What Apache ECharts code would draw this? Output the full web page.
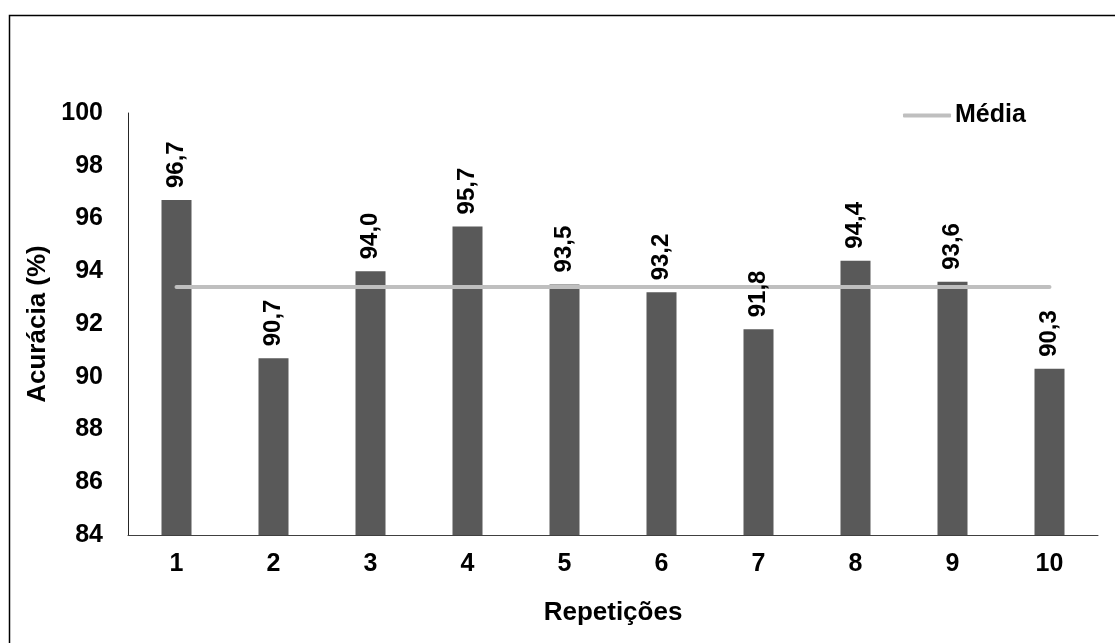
<!DOCTYPE html>
<html>
<head>
<meta charset="utf-8">
<script src="https://cdn.jsdelivr.net/npm/echarts@6/dist/echarts.min.js"></script>
<style>
  html, body { margin: 0; padding: 0; background: #fff; }
  #chart { width: 1115px; height: 643px; }
</style>
</head>
<body>
<div id="chart"></div>
<script>
// Repetições (runs) and accuracy per run
const categories = ['1', '2', '3', '4', '5', '6', '7', '8', '9', '10'];
const accuracy = [96.7, 90.7, 94.0, 95.7, 93.5, 93.2, 91.8, 94.4, 93.6, 90.3];
// Mean accuracy across the ten runs
const media = [93.4, 93.4, 93.4, 93.4, 93.4, 93.4, 93.4, 93.4, 93.4, 93.4];
const yTicks = [84, 86, 88, 90, 92, 94, 96, 98, 100];

const FONT = '"Liberation Sans", Arial, sans-serif';
const chart = echarts.init(document.getElementById('chart'), null, { renderer: 'canvas' });

const valueLabel = {
  show: true,
  position: 'top',
  rotate: 90,
  align: 'left',
  verticalAlign: 'middle',
  distance: 12,
  fontFamily: FONT,
  fontSize: 24,
  fontWeight: 'bold',
  color: '#000',
  formatter: p => p.value.toFixed(1).replace('.', ',')
};

chart.setOption({
  animation: false,
  backgroundColor: '#ffffff',
  textStyle: { fontFamily: FONT },
  graphic: [{
    type: 'rect',
    shape: { x: 9.5, y: 15.5, width: 1200, height: 700 },
    style: { fill: 'none', stroke: '#000', lineWidth: 1.5 },
    silent: true,
    z: -1
  }],
  legend: {
    data: [{ name: 'Média', icon: 'roundRect' }],
    left: 903,
    top: 103,
    padding: 0,
    itemWidth: 48,
    itemHeight: 4,
    itemGap: 4,
    textStyle: { fontFamily: FONT, fontSize: 25, fontWeight: 'bold', color: '#000', padding: [0, 0, 0, -1] }
  },
  grid: { left: 128, top: 113, right: 17, bottom: 108, containLabel: false },
  xAxis: {
    type: 'category',
    data: categories,
    boundaryGap: true,
    name: 'Repetições',
    nameLocation: 'middle',
    nameGap: 65,
    nameTextStyle: { fontFamily: FONT, fontSize: 26, fontWeight: 'bold', color: '#000' },
    axisLine: { lineStyle: { color: '#404040', width: 1 } },
    axisTick: { show: false },
    axisLabel: { fontFamily: FONT, fontSize: 25, fontWeight: 'bold', color: '#000', margin: 17 }
  },
  yAxis: {
    type: 'value',
    min: yTicks[0],
    max: yTicks[yTicks.length - 1],
    interval: 2,
    name: 'Acurácia (%)',
    nameLocation: 'middle',
    nameGap: 75,
    nameRotate: 90,
    nameTextStyle: { fontFamily: FONT, fontSize: 26, fontWeight: 'bold', color: '#000' },
    axisLine: { show: true, lineStyle: { color: '#262626', width: 1 } },
    axisTick: { show: false },
    splitLine: { show: false },
    axisLabel: { fontFamily: FONT, fontSize: 25, fontWeight: 'bold', color: '#000', margin: 25 }
  },
  series: [
    {
      name: 'Acurácia',
      type: 'bar',
      data: accuracy,
      barWidth: 30,
      barGap: '-100%',
      itemStyle: { color: '#595959' },
      z: 2
    },
    {
      name: 'Média',
      type: 'line',
      data: media,
      symbol: 'none',
      lineStyle: { color: '#BFBFBF', width: 4, cap: 'round' },
      itemStyle: { color: '#BFBFBF' },
      z: 3
    },
    {
      // value labels drawn above the mean line
      name: 'Rótulos',
      type: 'bar',
      data: accuracy,
      barWidth: 30,
      barGap: '-100%',
      itemStyle: { color: 'rgba(0,0,0,0)' },
      label: valueLabel,
      z: 4,
      silent: true
    }
  ]
});
</script>
</body>
</html>
